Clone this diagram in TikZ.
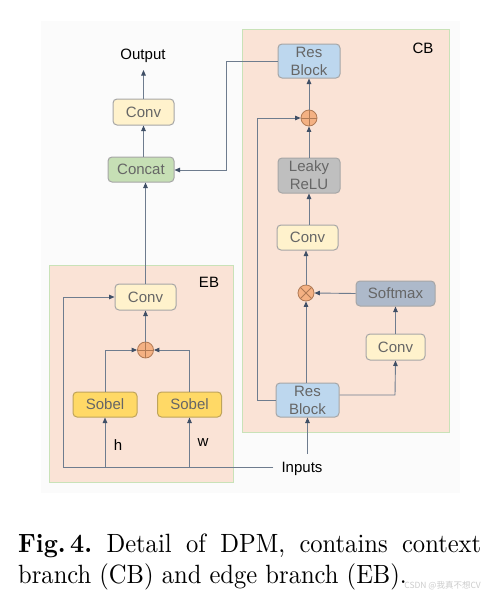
\documentclass[tikz,border=0pt]{standalone}
\usepackage{fontspec}
\newfontfamily\arial{Liberation Sans}
\newfontfamily\cjk{Noto Sans CJK SC}
\newfontfamily\capfont[Extension=.otf, UprightFont=*-regular, BoldFont=lmroman10-bold, FakeStretch=0.93]{lmroman10}
\usetikzlibrary{arrows.meta,calc}
\definecolor{panel}{HTML}{FBFBFB}
\definecolor{peach}{HTML}{FAE3D6}
\definecolor{grnborder}{HTML}{C9E2B8}
\definecolor{linec}{HTML}{6E7C8E}
\definecolor{tipc}{HTML}{3F4F66}
\definecolor{boxborder}{HTML}{A6A6A6}
\definecolor{boxtext}{HTML}{666666}
\definecolor{yel}{HTML}{FFF2CC}
\definecolor{grn}{HTML}{C6DFB5}
\definecolor{blu}{HTML}{BDD7EE}
\definecolor{gry}{HTML}{BFBFBF}
\definecolor{slate}{HTML}{ADB9CA}
\definecolor{gold}{HTML}{FFD966}
\definecolor{goldb}{HTML}{BFA45A}
\definecolor{org}{HTML}{F4B183}
\definecolor{orgb}{HTML}{B07A55}
\tikzset{
  blk/.style={draw=boxborder, line width=1pt, rounded corners=4pt, text=boxtext,
    font=\arial\fontsize{15}{18}\selectfont, align=center, inner sep=0pt},
  opc/.style={circle, draw=orgb, fill=org, line width=0.8pt, minimum size=16pt, inner sep=0pt},
  lbl/.style={font=\arial\fontsize{15}{17}\selectfont, text=black, inner sep=0pt},
  con/.style={draw=linec, line width=0.9pt},
  arr/.style={con, -{Triangle[length=5.5pt,width=4.5pt,color=tipc]}},
  region/.style={fill=peach, draw=grnborder, line width=1pt},
}
\begin{document}
\begin{tikzpicture}[x=1pt,y=-1pt]
\useasboundingbox (0,0) rectangle (488,597);
\fill[white] (0,0) rectangle (488,597);
\fill[panel] (41,21) rectangle (460,493);
% regions
\draw[region] (242,29) rectangle (449,432);
\draw[region] (49,265) rectangle (233,482);
\node[lbl] (cbl) at (423,48) {CB};
\node[lbl] (ebl) at (209,282) {EB};
% top
\node[lbl] (out) at (143,56) {Output};
\node[blk, fill=yel, minimum width=61pt, minimum height=26pt] (conv1) at (143.5,112) {Conv};
\node[blk, fill=grn, minimum width=66pt, minimum height=25pt] (concat) at (141,169.5) {Concat};
% CB
\node[blk, fill=blu, minimum width=62pt, minimum height=34pt] (resb1) at (309,61) {Res\\Block};
\node[opc] (plus1) at (309,118) {};
\node[blk, fill=gry, minimum width=62pt, minimum height=35pt] (leaky) at (309,175.5) {Leaky\\ReLU};
\node[blk, fill=yel, minimum width=61pt, minimum height=25pt] (conv2) at (307.5,237.5) {Conv};
\node[opc] (times) at (306,293) {};
\node[blk, fill=slate, minimum width=79pt, minimum height=25pt] (softmax) at (395.5,293.5) {Softmax};
\node[blk, fill=yel, minimum width=59pt, minimum height=26pt] (conv3) at (395.5,347) {Conv};
\node[blk, fill=blu, minimum width=63pt, minimum height=34pt] (resb2) at (307.5,400) {Res\\Block};
\node[lbl, inner ysep=8pt, inner xsep=8pt] (inputs) at (302,469) {Inputs};
% EB
\node[blk, fill=yel, minimum width=61pt, minimum height=26pt] (ebconv) at (145.5,297) {Conv};
\node[opc] (plus2) at (145.5,350) {};
\node[blk, fill=gold, draw=goldb, minimum width=64pt, minimum height=25pt] (sobel1) at (105,404.5) {Sobel};
\node[blk, fill=gold, draw=goldb, minimum width=64pt, minimum height=25pt] (sobel2) at (189.5,404.5) {Sobel};
\node[lbl] (hl) at (118,445) {h};
\node[lbl] (wl) at (203,443) {w};
% operator glyphs
\draw[orgb, line width=0.8pt] (plus1.north) -- (plus1.south) (plus1.west) -- (plus1.east);
\draw[orgb, line width=0.8pt] (plus2.north) -- (plus2.south) (plus2.west) -- (plus2.east);
\draw[orgb, line width=0.8pt] (times.45) -- (times.225) (times.135) -- (times.315);
% coordinates
\coordinate (cbl1) at (257,400);
\coordinate (cbl2) at (257,118);
\coordinate (cbr) at (395,395);
\coordinate (topr1) at (226,61);
\coordinate (topr2) at (226,170);
\coordinate (ebl1) at (63,467);
\coordinate (ebl2) at (63,297);
\coordinate (outp) at (143.5,70);
% connectors CB
\draw[arr] ($(inputs.north -| resb2.south)$) -- (resb2.south);
\draw[arr] (resb2.north -| times.south) -- (times.south);
\draw[arr] (resb2.east |- cbr) -- (cbr) -- (conv3.south);
\draw[arr] (conv3.north) -- (softmax.south -| conv3.north);
\draw[arr] (softmax.west) -- (times.east);
\draw[arr] (times.north) -- (conv2.south -| times.north);
\draw[arr] (conv2.north -| leaky.south) -- (leaky.south);
\draw[arr] (leaky.north) -- (plus1.south);
\draw[arr] (plus1.north) -- (resb1.south);
\draw[arr] (resb2.west) -- (cbl1) -- (cbl2) -- (plus1.west);
\draw[arr] (resb1.west) -- (topr1) -- (topr2) -- (concat.east |- topr2);
% top
\draw[arr] (ebconv.north) -- (ebconv.north |- concat.south);
\draw[arr] (concat.north -| conv1.south) -- (conv1.south);
\draw[arr] (conv1.north) -- (outp);
% EB
\draw[con] (inputs.west |- ebl1) -- (ebl1);
\draw[arr] (ebl1) -- (ebl2) -- (ebconv.west);
\draw[arr] (sobel1.south |- ebl1) -- (sobel1.south);
\draw[arr] (sobel2.south |- ebl1) -- (sobel2.south);
\draw[arr] (sobel1.north) -- (sobel1.north |- plus2.west) -- (plus2.west);
\draw[arr] (sobel2.north) -- (sobel2.north |- plus2.east) -- (plus2.east);
\draw[arr] (plus2.north) -- (ebconv.south);
% caption
\node[anchor=base west, inner sep=0pt, text width=463pt, align=justify,
  font=\capfont\fontsize{26.4}{31}\selectfont\frenchspacing] (cap) at (18,552)
  {\textbf{Fig.\,4.} Detail of DPM, contains context branch (CB) and edge branch (EB).};
\node[anchor=east, inner sep=0pt, text=black!20, font=\cjk\fontsize{8.5}{9}\selectfont] (wm) at (481,586) {CSDN @我真不想CV};
\end{tikzpicture}
\end{document}
